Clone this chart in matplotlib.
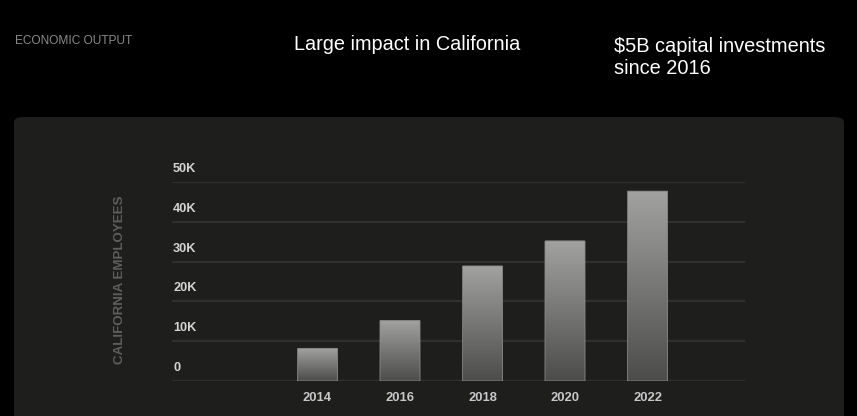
import numpy as np
import matplotlib
matplotlib.use("Agg")
import matplotlib.pyplot as plt
from matplotlib.patches import FancyBboxPatch
from matplotlib.colors import LinearSegmentedColormap
from matplotlib import transforms

years = ["2014", "2016", "2018", "2020", "2022"]
employees = [8200, 15200, 28900, 35200, 47700]
yticks = [0, 10000, 20000, 30000, 40000, 50000]
ytick_labels = ["0", "10K", "20K", "30K", "40K", "50K"]

plt.rcParams['font.family'] = ['Liberation Sans', 'DejaVu Sans']

W, H = 857, 416
fig = plt.figure(figsize=(W / 100, H / 100), dpi=100)
fig.patch.set_facecolor("black")

# panel
panel = FancyBboxPatch((14 / W, -20 / H), (844 - 14) / W, (416 - 117 + 20) / H,
                       boxstyle="round,pad=0,rounding_size=0.012",
                       transform=fig.transFigure, facecolor="#1e1f1d",
                       edgecolor="none", zorder=-10)
fig.patches.append(panel)

fig.text(15 / W, 1 - 41 / H, "ECONOMIC OUTPUT", color="#8a8a8a", fontsize=8.6,
         va="center", ha="left")
fig.text(294 / W, 1 - 45 / H, "Large impact in California", color="white",
         fontsize=14.3, va="center", ha="left")
fig.text(614 / W, 1 - 57 / H, "$5B capital investments\nsince 2016", color="white",
         fontsize=14.4, va="center", ha="left", linespacing=1.2)

# axes: 0 at y=381, 50K at y=182; x from 172 to 745
ax = fig.add_axes([172 / W, 1 - 381 / H, (745 - 172) / W, (381 - 182) / H], zorder=1)
ax.set_facecolor("none")
for s in ax.spines.values():
    s.set_visible(False)

x = np.arange(len(years))
spacing = 82.5
xl = -(317.5 - 172) / spacing
xr = (745 - 317.5) / spacing
width = 40 / spacing

for v in yticks:
    ax.axhline(v, color="#30312f", lw=1.6, zorder=1)

grad = np.linspace(0, 1, 256).reshape(-1, 1)
cmap = LinearSegmentedColormap.from_list("g", ["#4c4d4b", "#a2a3a1"])
for xi, v in zip(x, employees):
    patch = FancyBboxPatch((xi - width / 2, 0), width, v,
                           boxstyle="round,pad=0,rounding_size=0.02",
                           mutation_aspect=2000,
                           facecolor="none", edgecolor="#8a8b89", lw=0.6, zorder=3)
    ax.add_patch(patch)
    im = ax.imshow(grad, extent=(xi - width / 2, xi + width / 2, 0, v), origin="lower",
                   aspect="auto", cmap=cmap, zorder=2)
    im.set_clip_path(patch)

ax.set_xlim(xl, xr)
ax.set_ylim(0, 50000)
ax.set_xticks(x)
ax.set_xticklabels(years)
ax.tick_params(axis="x", length=0, pad=8, labelsize=9.4, labelcolor="#c8c8c8")
for t in ax.get_xticklabels():
    t.set_fontweight("bold")
ax.set_yticks([])

trans = transforms.offset_copy(ax.get_yaxis_transform(), fig=fig, x=1, y=7, units="dots")
for v, lab in zip(yticks, ytick_labels):
    ax.text(0, v, lab, transform=trans, ha="left", va="bottom", fontsize=9.2,
            color="#d4d4d4", fontweight="bold")

fig.text(119.5 / W, 1 - 280 / H, "CALIFORNIA EMPLOYEES", rotation=90, color="#5e5f5d",
         fontsize=9.6, fontweight="bold", ha="center", va="center")

fig.savefig("out.png", dpi=100, facecolor="black")
